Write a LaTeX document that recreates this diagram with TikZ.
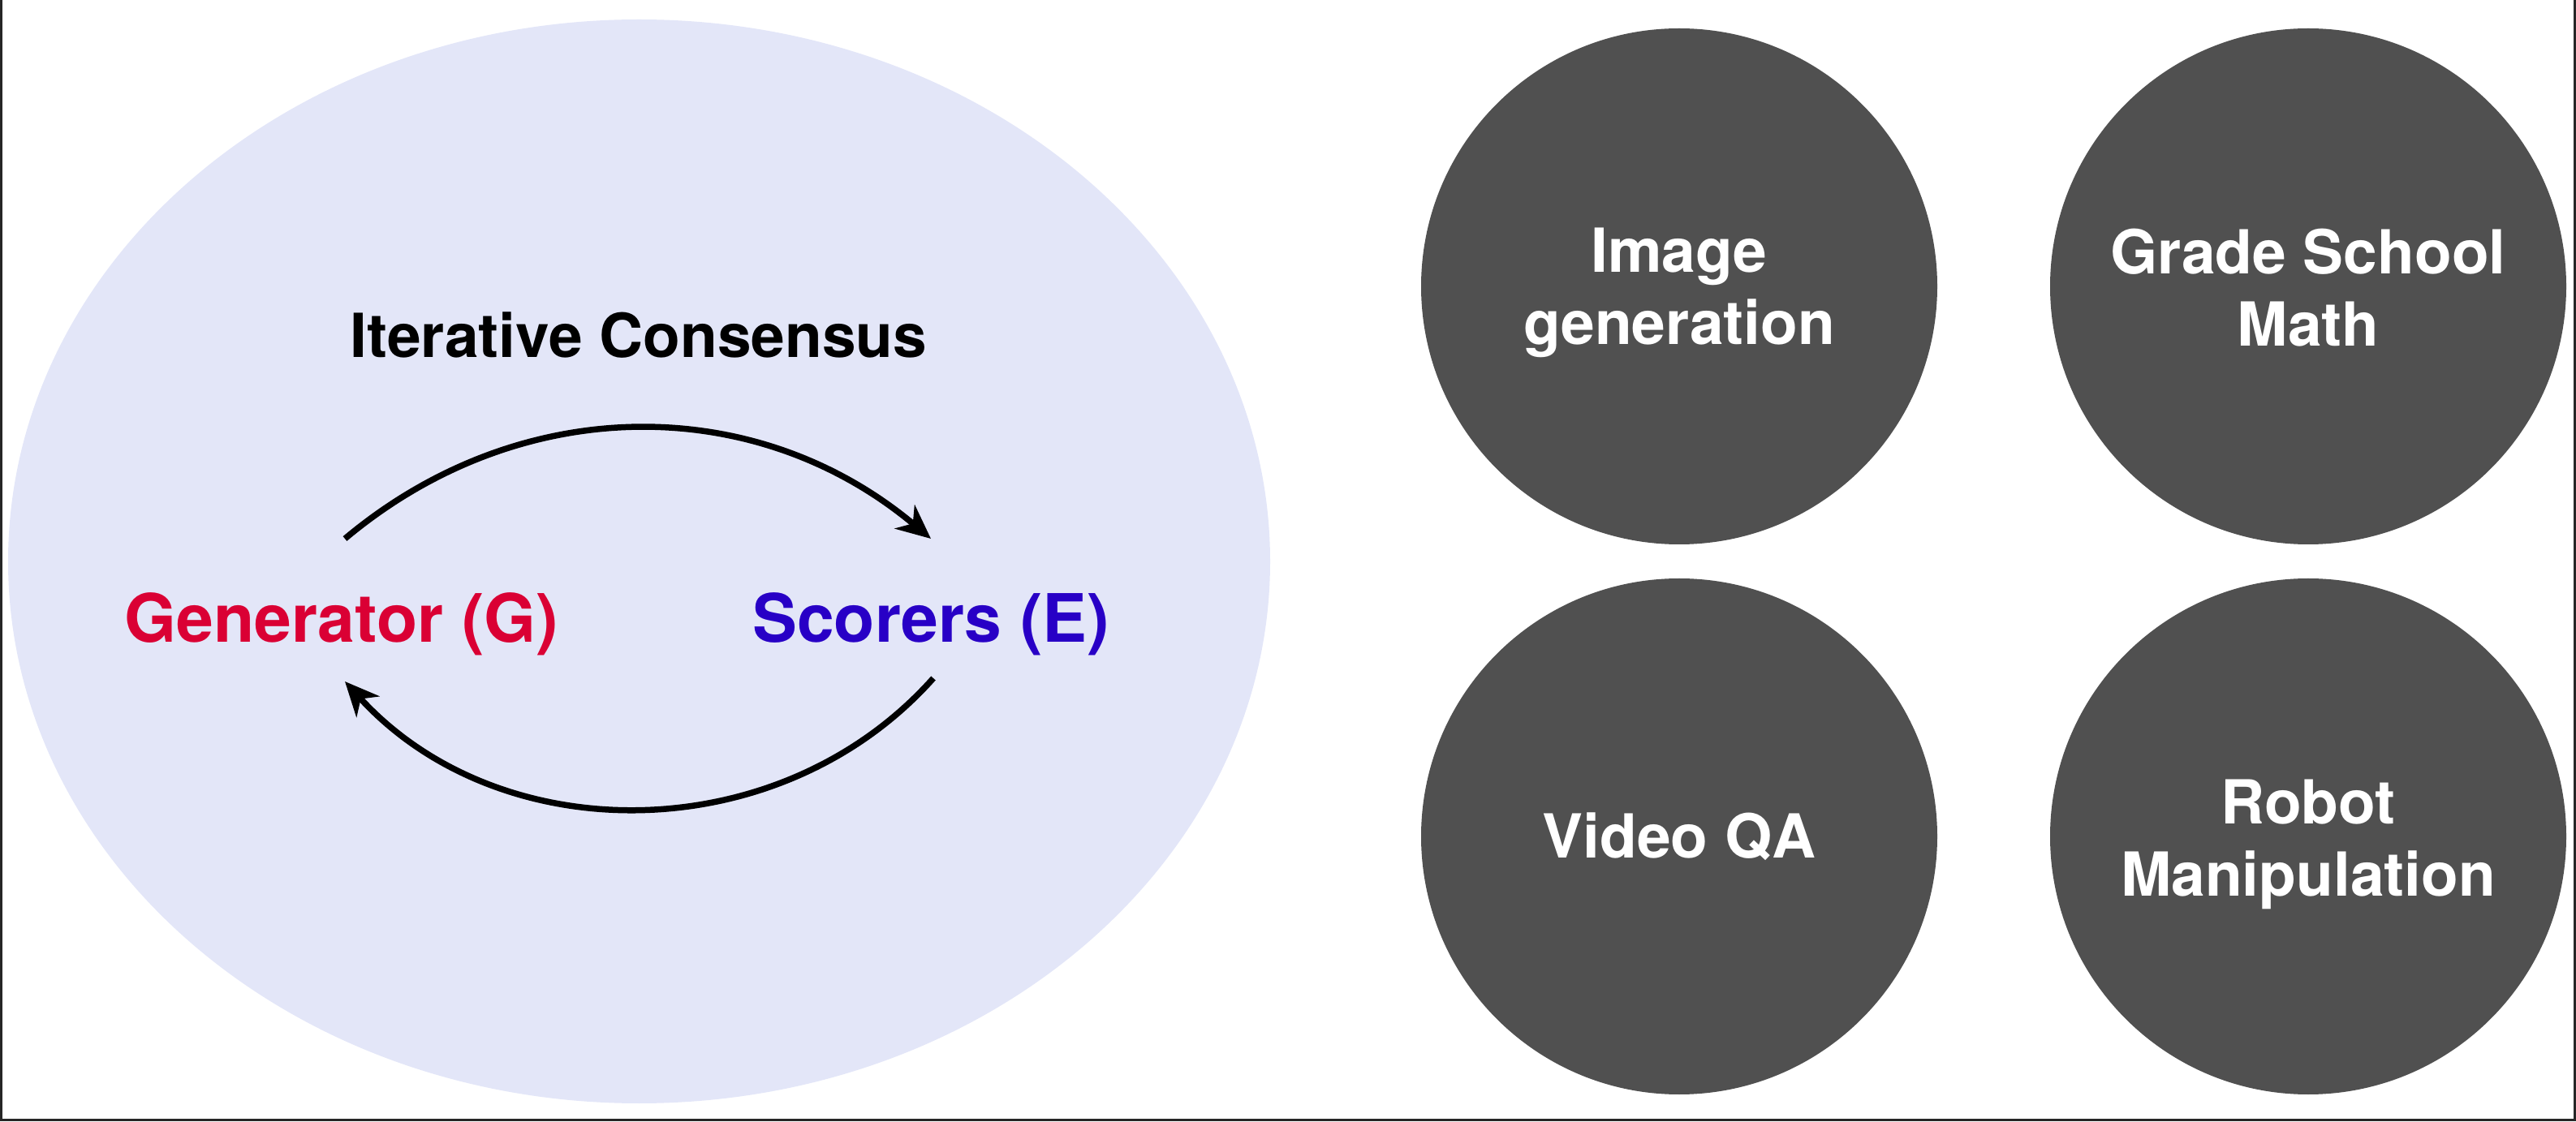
\documentclass[tikz,border=0pt]{standalone}
\usepackage{fontspec}
\setmainfont{TeX Gyre Heros}
\usepackage{tikz}
\usetikzlibrary{arrows.meta,shapes.geometric}
\definecolor{genred}{RGB}{218,0,52}
\definecolor{scoblue}{RGB}{40,0,198}
\definecolor{blobfill}{RGB}{227,230,248}
\definecolor{taskgray}{RGB}{80,80,80}
\def\labelfont{\fontsize{23.4}{28}\selectfont\bfseries}

\begin{document}
\begin{tikzpicture}[
		task/.style={circle, fill=taskgray, minimum size=6.36cm, inner sep=0pt},
		tasktext/.style={align=center, text=white, font=\fontsize{21.3}{25.3}\selectfont\bfseries},
		cyclearrow/.style={line width=0.075cm, -{Stealth[length=0.42cm, width=0.38cm, inset=0.13cm]}}
	]
		%%%%% START %%%%%
		
		\useasboundingbox (0, 0) rectangle (31.74, 13.82);
		
		% screen frame
		\draw[line width=0.03cm, color=black!85] (0.015, 13.82) -- (0.015, 0.015) -- (31.725, 0.015) -- (31.725, 13.82);
		
		% consensus loop
		\fill[blobfill] (7.875, 6.90) ellipse (7.775 and 6.68);
		
		\node[font=\fontsize{21.3}{25}\selectfont\bfseries] (iter) at (7.87, 9.69) {Iterative Consensus};
		\node[font=\labelfont, text=genred] (gen) at (4.21, 6.13) {Generator (G)};
		\node[font=\labelfont, text=scoblue] (sco) at (11.47, 6.13) {Scorers (E)};
		
		\draw[cyclearrow] ([xshift=0.04cm, yshift=1.05cm]gen.center) to[bend left=40] ([yshift=1.05cm]sco.center);
		\draw[cyclearrow] ([xshift=0.03cm, yshift=-0.67cm]sco.center) to[bend left=48] ([xshift=0.04cm, yshift=-0.71cm]gen.center);
		
		% tasks
		\node[task] (img) at (20.69, 10.29) {};
		\node[task] (gsm) at (28.44, 10.29) {};
		\node[task] (vqa) at (20.69, 3.51) {};
		\node[task] (robot) at (28.44, 3.51) {};
		
		\node[tasktext] (imgtext) at ([yshift=-0.08cm]img) {Image\\generation};
		\node[tasktext] (gsmtext) at ([yshift=-0.02cm]gsm) {Grade School\\Math};
		\node[tasktext] (vqatext) at (vqa) {Video QA};
		\node[tasktext] (robottext) at ([yshift=-0.1cm]robot) {Robot\\Manipulation};
		
		%%%%% END %%%%%
	\end{tikzpicture}
\end{document}
